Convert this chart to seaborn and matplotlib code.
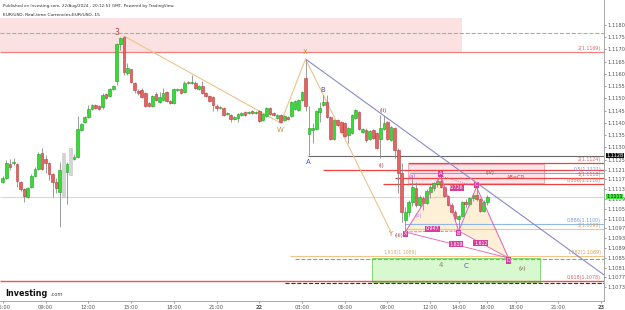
import matplotlib
matplotlib.use("Agg")
import matplotlib.pyplot as plt
import matplotlib.transforms as mtransforms
import numpy as np
import pandas as pd
import seaborn as sns

sns.set_theme(style="white")
plt.rcParams['font.family'] = ['DejaVu Sans']

# ---------------- data: EUR/USD 15-minute candles (21 Aug 06:00 -> 22 Aug 16:00) ----------------
opens = [1.11160, 1.11175, 1.11233, 1.11237, 1.11233, 1.11160, 1.11131, 1.11099, 1.11139, 1.11184,
         1.11212, 1.11278, 1.11253, 1.11237, 1.11192, 1.11160, 1.11119, 1.11099, 1.11200, 1.11188,
         1.11253, 1.11261, 1.11372, 1.11404, 1.11424, 1.11457, 1.11474, 1.11470, 1.11465, 1.11519,
         1.11510, 1.11539, 1.11572, 1.11723, 1.11751, 1.11604, 1.11620, 1.11564, 1.11531, 1.11535,
         1.11523, 1.11482, 1.11470, 1.11519, 1.11486, 1.11494, 1.11527, 1.11490, 1.11482, 1.11535,
         1.11539, 1.11527, 1.11568, 1.11564, 1.11564, 1.11539, 1.11551, 1.11523, 1.11510, 1.11506,
         1.11470, 1.11461, 1.11461, 1.11437, 1.11433, 1.11416, 1.11420, 1.11433, 1.11445, 1.11441,
         1.11449, 1.11441, 1.11449, 1.11412, 1.11429, 1.11461, 1.11441, 1.11420, 1.11433, 1.11412,
         1.11424, 1.11429, 1.11457, 1.11453, 1.11494, 1.11584, 1.11356, 1.11372, 1.11376, 1.11445,
         1.11474, 1.11486, 1.11424, 1.11335, 1.11412, 1.11404, 1.11400, 1.11351, 1.11360, 1.11420,
         1.11445, 1.11364, 1.11372, 1.11335, 1.11372, 1.11360, 1.11335, 1.11376, 1.11404, 1.11331,
         1.11379, 1.11290, 1.11196, 1.11004, 1.11037, 1.11078, 1.11135, 1.11065, 1.11094, 1.11074,
         1.11119, 1.11135, 1.11152, 1.11164, 1.11139, 1.11103, 1.11065, 1.11037, 1.11008, 1.11020,
         1.11078, 1.11070, 1.11094, 1.11107, 1.11090, 1.11041, 1.11078]
highs = [1.11184, 1.11249, 1.11253, 1.11257, 1.11237, 1.11164, 1.11135, 1.11139, 1.11192, 1.11220,
         1.11282, 1.11298, 1.11270, 1.11241, 1.11196, 1.11175, 1.11241, 1.11278, 1.11241, 1.11298,
         1.11274, 1.11429, 1.11400, 1.11429, 1.11474, 1.11478, 1.11478, 1.11474, 1.11523, 1.11523,
         1.11543, 1.11555, 1.11727, 1.11751, 1.11755, 1.11645, 1.11620, 1.11568, 1.11539, 1.11543,
         1.11527, 1.11486, 1.11515, 1.11527, 1.11527, 1.11543, 1.11531, 1.11494, 1.11543, 1.11543,
         1.11543, 1.11572, 1.11572, 1.11596, 1.11572, 1.11555, 1.11572, 1.11527, 1.11515, 1.11510,
         1.11478, 1.11470, 1.11465, 1.11445, 1.11437, 1.11429, 1.11441, 1.11445, 1.11449, 1.11449,
         1.11453, 1.11449, 1.11453, 1.11441, 1.11465, 1.11465, 1.11445, 1.11437, 1.11437, 1.11433,
         1.11429, 1.11490, 1.11494, 1.11498, 1.11531, 1.11661, 1.11470, 1.11400, 1.11453, 1.11486,
         1.11515, 1.11515, 1.11429, 1.11416, 1.11416, 1.11408, 1.11404, 1.11384, 1.11437, 1.11457,
         1.11449, 1.11380, 1.11380, 1.11372, 1.11376, 1.11364, 1.11433, 1.11429, 1.11408, 1.11388,
         1.11384, 1.11298, 1.11237, 1.11057, 1.11086, 1.11172, 1.11160, 1.11107, 1.11103, 1.11131,
         1.11147, 1.11160, 1.11172, 1.11184, 1.11147, 1.11107, 1.11074, 1.11045, 1.11025, 1.11082,
         1.11090, 1.11099, 1.11115, 1.11139, 1.11094, 1.11086, 1.11107]
lows = [1.11156, 1.11171, 1.11208, 1.11229, 1.11139, 1.11123, 1.11078, 1.11094, 1.11135, 1.11180,
        1.11208, 1.11208, 1.11196, 1.11168, 1.11099, 1.11115, 1.10976, 1.11099, 1.11070, 1.11188,
        1.11249, 1.11257, 1.11367, 1.11400, 1.11420, 1.11453, 1.11457, 1.11453, 1.11457, 1.11498,
        1.11506, 1.11535, 1.11555, 1.11698, 1.11596, 1.11596, 1.11564, 1.11523, 1.11515, 1.11502,
        1.11465, 1.11465, 1.11465, 1.11490, 1.11482, 1.11490, 1.11486, 1.11478, 1.11478, 1.11531,
        1.11519, 1.11523, 1.11559, 1.11559, 1.11539, 1.11535, 1.11519, 1.11506, 1.11486, 1.11449,
        1.11449, 1.11457, 1.11429, 1.11433, 1.11404, 1.11412, 1.11404, 1.11429, 1.11429, 1.11437,
        1.11437, 1.11437, 1.11404, 1.11408, 1.11424, 1.11433, 1.11429, 1.11416, 1.11400, 1.11408,
        1.11412, 1.11424, 1.11453, 1.11449, 1.11490, 1.11449, 1.11270, 1.11319, 1.11372, 1.11404,
        1.11470, 1.11420, 1.11331, 1.11331, 1.11388, 1.11360, 1.11343, 1.11319, 1.11356, 1.11416,
        1.11372, 1.11360, 1.11323, 1.11331, 1.11335, 1.11294, 1.11257, 1.11372, 1.11331, 1.11327,
        1.11257, 1.11115, 1.10996, 1.10955, 1.11020, 1.11061, 1.11057, 1.11053, 1.11045, 1.11070,
        1.11094, 1.11123, 1.11139, 1.11135, 1.11099, 1.11061, 1.11033, 1.11000, 1.10959, 1.11016,
        1.11057, 1.11061, 1.11082, 1.11082, 1.11037, 1.11037, 1.11065]
closes = [1.11175, 1.11237, 1.11220, 1.11241, 1.11164, 1.11131, 1.11103, 1.11135, 1.11184, 1.11212,
          1.11274, 1.11212, 1.11237, 1.11192, 1.11160, 1.11135, 1.11208, 1.11278, 1.11233, 1.11298,
          1.11261, 1.11376, 1.11396, 1.11424, 1.11457, 1.11474, 1.11461, 1.11457, 1.11515, 1.11502,
          1.11539, 1.11551, 1.11723, 1.11747, 1.11608, 1.11624, 1.11568, 1.11535, 1.11523, 1.11506,
          1.11470, 1.11470, 1.11510, 1.11494, 1.11506, 1.11523, 1.11490, 1.11482, 1.11539, 1.11539,
          1.11523, 1.11564, 1.11564, 1.11568, 1.11543, 1.11551, 1.11523, 1.11510, 1.11490, 1.11474,
          1.11461, 1.11465, 1.11433, 1.11441, 1.11416, 1.11424, 1.11437, 1.11441, 1.11433, 1.11445,
          1.11441, 1.11445, 1.11408, 1.11437, 1.11461, 1.11437, 1.11433, 1.11433, 1.11404, 1.11429,
          1.11416, 1.11486, 1.11490, 1.11494, 1.11527, 1.11470, 1.11379, 1.11379, 1.11449, 1.11461,
          1.11486, 1.11424, 1.11335, 1.11412, 1.11392, 1.11364, 1.11347, 1.11379, 1.11433, 1.11453,
          1.11376, 1.11376, 1.11331, 1.11368, 1.11339, 1.11298, 1.11379, 1.11400, 1.11335, 1.11384,
          1.11290, 1.11196, 1.11037, 1.11037, 1.11078, 1.11139, 1.11065, 1.11099, 1.11074, 1.11123,
          1.11139, 1.11156, 1.11164, 1.11139, 1.11103, 1.11065, 1.11037, 1.11012, 1.11020, 1.11078,
          1.11070, 1.11094, 1.11107, 1.11090, 1.11041, 1.11078, 1.11099]
ghost_candles = [17, 19]          # light-grey candles

# price-axis ticks as printed
price_ticks = [1.1180, 1.1175, 1.1170, 1.1165, 1.1160, 1.1155, 1.1150, 1.1145, 1.1140, 1.1135, 1.1130,
               1.1125, 1.1121, 1.1117, 1.1113, 1.1109, 1.1105, 1.1101, 1.1097, 1.1093, 1.1089, 1.1085,
               1.1081, 1.1077, 1.1073]
# time ticks (hours relative to 22 Aug 00:00)
time_ticks = [-18, -15, -12, -9, -6, -3, 0, 3, 6, 9, 12, 14, 16, 18, 21, 24]
time_labels = ["06:00", "09:00", "12:00", "15:00", "18:00", "21:00", "22", "03:00", "06:00", "09:00",
               "12:00", "14:00", "16:00", "18:00", "21:00", "23"]

# Elliott / W-X-Y path (time h, price)
wave_t = [-9.5, 1.5, 3.25, 9.25]
wave_p = [1.11755, 1.11400, 1.11661, 1.10955]
# descending trend line
trend_t = [3.25, 24.2]
trend_p = [1.11661, 1.10780]
# harmonic XABCD
harm_names = ["X", "A", "B", "C", "D"]
harm_t = [10.25, 12.75, 14.0, 15.25, 17.5]
harm_p = [1.10955, 1.11184, 1.10959, 1.11139, 1.10849]
ratio_text = ["0.726", "0.947", "1.619", "1.612"]
ratio_t = [13.88, 12.19, 13.81, 15.56]
ratio_p = [1.11135, 1.10968, 1.10906, 1.10910]

# horizontal levels: (price, start h, colour, style, width)
lv_price = [1.11769, 1.11690, 1.11267, 1.11237, 1.11208, 1.11196, 1.11176, 1.11151, 1.11098,
            1.10988, 1.10968, 1.10857, 1.10845, 1.10755, 1.10747]
lv_start = [-18.2, -18.2, 3.42, 10.44, 4.5, 10.6, 9.53, 8.68, -18.2,
            10.23, 10.23, 2.15, 2.5, -18.2, 1.8]
lv_color = ["#8fbf8f", "#f08080", "#666666", "#f04040", "#f04040", "#b58be0", "#f04040", "#f04040", "#a8e6a0",
            "#8fb8e6", "#f2c48a", "#f2c48a", "#6cb86c", "#f05050", "#333333"]
lv_style = ["--", "-", "-", "-", "-", "-", "-", "-", "-", "-", "-", "-", "--", "-", "--"]
lv_width = [0.8, 0.9, 0.8, 0.9, 0.9, 0.8, 0.9, 0.9, 0.6, 0.8, 0.8, 0.8, 0.8, 1.0, 0.8]

right_lbl_text = ["2(1.1169)", "2(1.1124)", "0.5(1.1121)", "1(1.1118)", "0.886(1.1116)",
                  "0.886(1.1100)", "2(1.1098)", "1.382(1.1089)", "0.618(1.1078)"]
right_lbl_price = [1.11690, 1.11237, 1.11196, 1.11176, 1.11151, 1.10988, 1.10968, 1.10857, 1.10755]
right_lbl_color = ["#e06060", "#e06060", "#7a8fd8", "#e06060", "#e07a50", "#6f9fd8", "#e0a050",
                   "#e0a050", "#e06060"]

# ---------------- figure ----------------
fig = plt.figure(figsize=(6.25, 3.10), dpi=100)
fig.patch.set_facecolor("white")
ax = fig.add_axes([0, 9 / 310, 604 / 625, 301 / 310])
ax.set_facecolor("white")
ax.set_xlim(-18.2, 24.2)
ax.set_ylim(1.106735, 1.119020)

n = len(opens)
assert len(highs) == n and len(lows) == n and len(closes) == n
times = -18.0 + 0.25 * np.arange(n)
df = pd.DataFrame({"t": times, "o": opens, "h": highs, "l": lows, "c": closes})

# zones
ax.add_patch(plt.Rectangle((-18.2, 1.11690), 14.23 + 18.2, 1.11829 - 1.11690,
                           facecolor="#fbe1e1", edgecolor="none", zorder=0))
ax.add_patch(plt.Rectangle((10.44, 1.11155), 20.0 - 10.44, 1.11233 - 1.11155,
                           facecolor="#fde3ea", edgecolor="#f4a0a8", lw=0.6, zorder=0))
ax.add_patch(plt.Rectangle((7.91, 1.10751), 19.71 - 7.91, 1.10849 - 1.10751,
                           facecolor="#d8f8d0", edgecolor="#86dc78", lw=0.8, zorder=0))

# harmonic fills
ax.fill(harm_t[0:3], harm_p[0:3], color="#fdf0d6", zorder=0.5, lw=0)
ax.fill(harm_t[2:5], harm_p[2:5], color="#fdf0d6", zorder=0.5, lw=0)

# levels
for p, s, col, ls, w in zip(lv_price, lv_start, lv_color, lv_style, lv_width):
    ax.hlines(p, s, 24.2, colors=col, linestyles=ls, lw=w, zorder=1)

# trend line + wave path
sns.lineplot(x=trend_t, y=trend_p, ax=ax, color="#8a8ac8", lw=0.8, sort=False, estimator=None, zorder=1.5)
sns.lineplot(x=wave_t, y=wave_p, ax=ax, color="#eec38a", lw=0.8, sort=False, estimator=None, zorder=1.5)

# candles
ax.vlines(df["t"], df["l"], df["h"], colors="#8c8c8c", lw=0.6, zorder=2)
bottoms = np.minimum(df["o"], df["c"])
heights = np.maximum(np.abs(df["c"] - df["o"]), 0.00003)
fcs, ecs = [], []
for i in range(n):
    if i in ghost_candles:
        fcs.append("#d4d4d4"); ecs.append("#c4c4c4")
    elif closes[i] >= opens[i]:
        fcs.append("#33dd33"); ecs.append("#1e9e1e")
    else:
        fcs.append("#e46464"); ecs.append("#b53a3a")
ax.bar(df["t"], heights, bottom=bottoms, width=0.19, color=fcs, edgecolor=ecs, linewidth=0.4, zorder=3)

# harmonic legs
pink = "#e05fb4"
sns.lineplot(x=harm_t, y=harm_p, ax=ax, color=pink, lw=0.7, sort=False, estimator=None, zorder=4)
for a, b, ls in [(0, 2, "--"), (1, 3, ":"), (0, 4, "-"), (2, 4, "-")]:
    ax.plot([harm_t[a], harm_t[b]], [harm_p[a], harm_p[b]], color=pink, lw=0.6, ls=ls, zorder=4)
box = dict(boxstyle="square,pad=0.15", fc="#d63f9e", ec="none")
offs = [-0.00008, 0.00008, -0.00008, 0.00008, -0.00010]
for nm, t, p, o in zip(harm_names, harm_t, harm_p, offs):
    ax.text(t, p + o, nm, color="white", fontsize=3.6, ha="center", va="center", bbox=box, zorder=6)
for txt, t, p in zip(ratio_text, ratio_t, ratio_p):
    ax.text(t, p, txt, color="white", fontsize=3.4, ha="center", va="center", bbox=box, zorder=6)

# wave labels
def lbl(t, p, s, col, fs=5.0, weight="normal"):
    ax.text(t, p, s, color=col, fontsize=fs, ha="center", va="center", weight=weight, zorder=6)

lbl(-9.99, 1.11771, "3", "#b04040", 5.5)
lbl(1.45, 1.11372, "W", "#c09050", 5.0)
lbl(3.21, 1.11690, "X", "#d08a40", 5.0)
lbl(9.2, 1.10947, "Y", "#b09060", 5.0)
lbl(9.8, 1.10940, "(iii)", "#9a3a3a", 3.8)
lbl(3.42, 1.11241, "A", "#3a55c8", 5.0)
lbl(4.47, 1.11535, "B", "#3a55c8", 5.0)
lbl(8.54, 1.11225, "(i)", "#8b2a2a", 3.8)
lbl(8.68, 1.11453, "(ii)", "#8b2a2a", 3.8)
lbl(10.72, 1.11180, "(a)", "#9060c0", 3.8)
lbl(11.14, 1.11021, "(b)", "#b888d8", 3.8)
lbl(16.2, 1.11196, "(iv)", "#6d4c35", 3.8)
lbl(18.03, 1.11176, "AB=CD", "#e03030", 3.6)
lbl(12.76, 1.10821, "4", "#a08050", 5.0)
lbl(14.51, 1.10817, "C", "#3a55c8", 5.0)
lbl(18.44, 1.10808, "(v)", "#6d4c35", 3.8)
ax.text(9.88, 1.10857 + 0.00004, "1.618(1.1089)", color="#d8a868", fontsize=3.3, ha="center", va="bottom", zorder=6)

for s, p, col in zip(right_lbl_text, right_lbl_price, right_lbl_color):
    ax.text(24.0, p + 0.00003, s, color=col, fontsize=3.4, ha="right", va="bottom", zorder=6)

# axes styling
for sp in ["top", "left"]:
    ax.spines[sp].set_visible(False)
for sp in ["right", "bottom"]:
    ax.spines[sp].set_color("#9a9a9a")
    ax.spines[sp].set_linewidth(0.6)
ax.yaxis.tick_right()
ax.set_yticks(price_ticks)
ax.set_yticklabels([f"{v:.4f}" for v in price_ticks])
ax.set_xticks(time_ticks)
ax.set_xticklabels(time_labels)
for lab in ax.get_xticklabels():
    if lab.get_text() in ("22", "23"):
        lab.set_fontweight("bold")
ax.tick_params(axis="y", labelsize=3.7, length=1.5, width=0.4, pad=1.2, colors="#555555", right=True)
ax.tick_params(axis="x", labelsize=3.7, length=1.5, width=0.4, pad=1.2, colors="#555555", bottom=True)
ax.set_xlabel(""); ax.set_ylabel("")
ax.grid(False)

ytr = mtransforms.blended_transform_factory(ax.transAxes, ax.transData)
ax.text(1.004, 1.11267, "1.1128", transform=ytr, fontsize=3.5, color="white", ha="left", va="center",
        bbox=dict(boxstyle="square,pad=0.08", fc="#111111", ec="none"), zorder=7, clip_on=False)
ax.text(1.004, 1.11100, "1.1111", transform=ytr, fontsize=3.4, color="#111111", ha="left", va="center",
        bbox=dict(boxstyle="square,pad=0.05", fc="#39e639", ec="none"), zorder=7, clip_on=False)

# header & watermark
fig.text(0.005, 1 - 5.5 / 310, "Published on Investing.com, 22/Aug/2024 - 20:12:51 GMT, Powered by TradingView.",
         fontsize=3.0, color="#333333", va="center", ha="left")
fig.text(0.005, 1 - 14.5 / 310, "EUR/USD, Real-time Currencies:EUR/USD, 15",
         fontsize=3.2, color="#222222", va="center", ha="left")
fig.text(0.008, (310 - 293) / 310, "Investing", fontsize=5.8, weight="bold", color="#111111",
         va="center", ha="left")
fig.text(0.080, (310 - 294) / 310, ".com", fontsize=3.6, color="#444444", va="center", ha="left")

fig.savefig("out.png", dpi=100, facecolor="white")
